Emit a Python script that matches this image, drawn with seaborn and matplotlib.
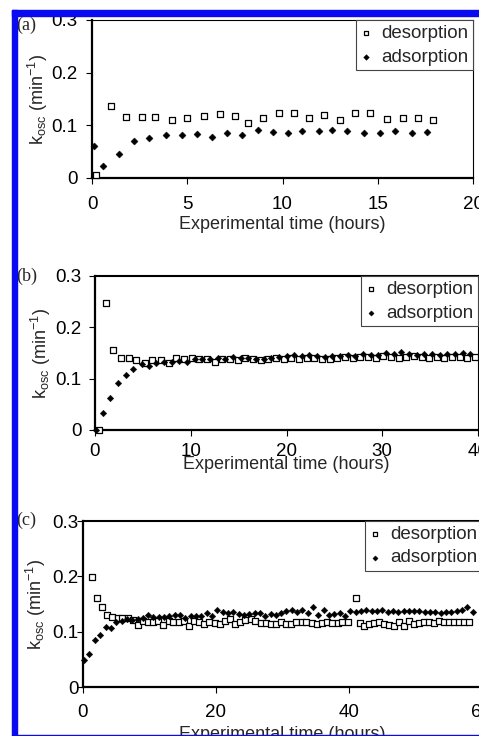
import matplotlib
matplotlib.use("Agg")
import matplotlib.pyplot as plt
from matplotlib.patches import Rectangle
import seaborn as sns

# ---------------- data ----------------
# (a) 20 h experiment
a_des_t = [0.2, 1.0, 1.8, 2.6, 3.3, 4.2, 5.0, 5.9, 6.7, 7.5, 8.2, 9.0, 9.8,
           10.6, 11.4, 12.2, 13.0, 13.8, 14.6, 15.5, 16.3, 17.1, 17.9]
a_des_k = [0.005, 0.136, 0.115, 0.115, 0.115, 0.111, 0.114, 0.117, 0.121, 0.117,
           0.104, 0.114, 0.123, 0.123, 0.114, 0.119, 0.111, 0.123, 0.123, 0.112,
           0.114, 0.114, 0.110]
a_ads_t = [0.1, 0.6, 1.4, 2.2, 3.0, 3.9, 4.7, 5.5, 6.3, 7.1, 7.9, 8.7, 9.5,
           10.3, 11.0, 11.9, 12.6, 13.4, 14.3, 15.1, 15.9, 16.8, 17.6]
a_ads_k = [0.060, 0.023, 0.046, 0.070, 0.076, 0.081, 0.081, 0.083, 0.078, 0.085,
           0.081, 0.091, 0.087, 0.085, 0.089, 0.089, 0.091, 0.089, 0.085, 0.085,
           0.089, 0.085, 0.087]

# (b) 40 h experiment
b_des_t = [0.4, 1.1, 1.9, 2.7, 3.5, 4.3, 5.2, 6.0, 6.9, 7.7,
           8.5, 9.3, 10.1, 10.9, 11.7, 12.5, 13.3, 14.1, 14.9, 15.7,
           16.5, 17.3, 18.1, 18.9, 19.7, 20.5, 21.3, 22.1, 22.9, 23.7,
           24.5, 25.3, 26.1, 26.9, 27.7, 28.5, 29.3, 30.1, 30.9, 31.7,
           32.5, 33.3, 34.1, 34.9, 35.7, 36.5, 37.3, 38.1, 38.9, 39.7]
b_des_k = [0.000, 0.247, 0.156, 0.141, 0.140, 0.136, 0.131, 0.136, 0.136, 0.130,
           0.140, 0.139, 0.141, 0.139, 0.138, 0.133, 0.138, 0.139, 0.137, 0.141,
           0.138, 0.137, 0.139, 0.140, 0.139, 0.141, 0.139, 0.140, 0.141, 0.138,
           0.139, 0.141, 0.143, 0.140, 0.142, 0.143, 0.141, 0.144, 0.143, 0.140,
           0.142, 0.145, 0.142, 0.141, 0.143, 0.141, 0.142, 0.143, 0.141, 0.142]
b_ads_t = [0.1, 0.8, 1.6, 2.4, 3.2, 4.0, 4.9, 5.6, 6.4, 7.2,
           8.0, 8.8, 9.6, 10.4, 11.2, 12.0, 12.8, 13.6, 14.4, 15.2,
           16.0, 16.8, 17.6, 18.4, 19.2, 20.0, 20.8, 21.6, 22.4, 23.2,
           24.0, 24.8, 25.6, 26.4, 27.2, 28.0, 28.8, 29.6, 30.4, 31.2,
           32.0, 32.8, 33.6, 34.4, 35.2, 36.0, 36.8, 37.6, 38.4, 39.2]
b_ads_k = [0.000, 0.034, 0.063, 0.091, 0.108, 0.118, 0.129, 0.124, 0.131, 0.132,
           0.133, 0.134, 0.133, 0.139, 0.138, 0.138, 0.141, 0.139, 0.142, 0.140,
           0.141, 0.138, 0.139, 0.141, 0.142, 0.145, 0.146, 0.145, 0.146, 0.145,
           0.143, 0.144, 0.145, 0.147, 0.144, 0.148, 0.146, 0.147, 0.150, 0.149,
           0.152, 0.148, 0.147, 0.149, 0.148, 0.147, 0.149, 0.148, 0.150, 0.149]

# (c) 60 h experiment
c_des_t = [1.3, 2.1, 2.8, 3.6, 4.4, 5.2, 5.9, 6.7, 7.5, 8.2,
           9.0, 9.8, 10.5, 11.3, 12.1, 12.9, 13.6, 14.4, 15.2, 15.9,
           16.7, 17.5, 18.2, 19.0, 19.8, 20.6, 21.3, 22.1, 22.9, 23.6,
           24.4, 25.2, 25.9, 26.7, 27.5, 28.3, 29.0, 29.8, 30.6, 31.3,
           32.1, 32.9, 33.6, 34.4, 35.2, 35.9, 36.7, 37.5, 38.3, 39.0,
           39.8, 41.0, 41.6, 42.3, 43.0, 43.8, 44.5, 45.3, 46.0, 46.8,
           47.5, 48.3, 49.0, 49.8, 50.5, 51.3, 52.0, 52.8, 53.5, 54.3,
           55.0, 55.8, 56.5, 57.3, 58.1]
c_des_k = [0.199, 0.161, 0.144, 0.130, 0.126, 0.124, 0.124, 0.124, 0.121, 0.112,
           0.119, 0.118, 0.118, 0.119, 0.112, 0.119, 0.118, 0.118, 0.119, 0.110,
           0.120, 0.118, 0.114, 0.117, 0.116, 0.113, 0.119, 0.122, 0.113, 0.118,
           0.121, 0.123, 0.120, 0.116, 0.115, 0.113, 0.114, 0.118, 0.113, 0.114,
           0.117, 0.118, 0.118, 0.116, 0.113, 0.116, 0.117, 0.115, 0.116, 0.118,
           0.118, 0.161, 0.115, 0.110, 0.113, 0.115, 0.118, 0.113, 0.112, 0.110,
           0.118, 0.110, 0.120, 0.113, 0.116, 0.118, 0.118, 0.116, 0.120, 0.117,
           0.117, 0.117, 0.117, 0.117, 0.118]
c_ads_t = [0.2, 0.9, 1.8, 2.5, 3.4, 4.2, 5.0,
           5.8, 6.6, 7.4, 8.2, 9.0, 9.8, 10.6, 11.4, 12.2, 13.0,
           13.8, 14.6, 15.4, 16.2, 17.0, 17.8, 18.6, 19.4, 20.2, 21.0,
           21.8, 22.6, 23.4, 24.2, 25.0, 25.8, 26.6, 27.4, 28.2, 29.0,
           29.8, 30.6, 31.4, 32.2, 33.0, 33.8, 34.6, 35.4, 36.2, 37.0,
           37.8, 38.6, 39.4, 40.2, 41.0, 41.8, 42.6, 43.4, 44.2, 45.0,
           45.8, 46.6, 47.4, 48.2, 49.0, 49.8, 50.6, 51.4, 52.2, 53.0,
           53.8, 54.6, 55.4, 56.2, 57.0, 57.8, 58.6]
c_ads_k = [0.048, 0.059, 0.085, 0.094, 0.109, 0.106, 0.118,
           0.120, 0.122, 0.121, 0.122, 0.125, 0.131, 0.126, 0.127, 0.126, 0.129,
           0.131, 0.131, 0.125, 0.128, 0.129, 0.128, 0.133, 0.129, 0.139, 0.136,
           0.134, 0.135, 0.132, 0.131, 0.132, 0.134, 0.134, 0.128, 0.132, 0.131,
           0.133, 0.138, 0.139, 0.136, 0.139, 0.133, 0.145, 0.131, 0.139, 0.130,
           0.132, 0.134, 0.129, 0.137, 0.136, 0.138, 0.140, 0.138, 0.138, 0.139,
           0.135, 0.137, 0.136, 0.138, 0.137, 0.138, 0.137, 0.136, 0.135, 0.136,
           0.133, 0.136, 0.135, 0.137, 0.139, 0.145, 0.136]

y_ticks = [0, 0.1, 0.2, 0.3]
y_ticklabels = ["0", "0.1", "0.2", "0.3"]
series_names = ["desorption", "adsorption"]
x_label = "Experimental time (hours)"
y_label = r"k$_{\mathregular{osc}}$ (min$^{\mathregular{-1}}$)"

# ---------------- style ----------------
sns.set_style("ticks")
plt.rcParams["font.family"] = ["Liberation Sans", "DejaVu Sans"]
plt.rcParams["mathtext.default"] = "regular"
FS = 13.5

W, H = 479, 736
fig = plt.figure(figsize=(W / 100, H / 100), dpi=100)


def px_axes(left, top, right, bottom):
    return fig.add_axes([left / W, 1 - bottom / H, (right - left) / W, (bottom - top) / H])


panels = [
    dict(tag="(a)", box=(92, 20, 473, 178), xlim=20, xticks=[0, 5, 10, 15, 20],
         des=(a_des_t, a_des_k), ads=(a_ads_t, a_ads_k),
         sq=20, dm=13, top_lw=0.8, ypad=6.5, xpad=9.0, labpad=2.0, ylab_px=50,
         tag_y=25),
    dict(tag="(b)", box=(95, 276, 478, 430), xlim=40, xticks=[0, 10, 20, 30, 40],
         des=(b_des_t, b_des_k), ads=(b_ads_t, b_ads_k),
         sq=15, dm=11, top_lw=1.5, ypad=5.8, xpad=5.0, labpad=-2.5, ylab_px=53,
         tag_y=276),
    dict(tag="(c)", box=(83, 521, 482, 687), xlim=60, xticks=[0, 20, 40, 60],
         des=(c_des_t, c_des_k), ads=(c_ads_t, c_ads_k),
         sq=15, dm=11, top_lw=1.5, ypad=-1.0, xpad=8.5, labpad=3.0, ylab_px=48,
         tag_y=520),
]

for p in panels:
    left, top, right, bottom = p["box"]
    ax = px_axes(left, top, right, bottom)

    sns.scatterplot(x=p["des"][0], y=p["des"][1], ax=ax, marker="s", s=p["sq"],
                    color="white", edgecolor="black", linewidth=0.9,
                    label=series_names[0], clip_on=False, zorder=3)
    sns.scatterplot(x=p["ads"][0], y=p["ads"][1], ax=ax, marker="D", s=p["dm"],
                    color="black", edgecolor="black", linewidth=0.3,
                    label=series_names[1], clip_on=False, zorder=4)

    ax.set_xlim(0, p["xlim"])
    ax.set_ylim(0, 0.3)
    ax.set_xticks(p["xticks"])
    ax.set_yticks(y_ticks)
    ax.set_yticklabels(y_ticklabels)
    ax.tick_params(axis="both", direction="out", length=4, width=0.8,
                   colors="black", labelsize=FS)
    ax.tick_params(axis="y", pad=p["ypad"])
    ax.tick_params(axis="x", pad=p["xpad"])

    for side in ("left", "bottom"):
        ax.spines[side].set_linewidth(1.6)
        ax.spines[side].set_color("black")
    ax.spines["top"].set_linewidth(p["top_lw"])
    ax.spines["right"].set_linewidth(0.8)
    ax.spines["top"].set_color("black")
    ax.spines["right"].set_color("black")
    for side in ("top", "right"):
        ax.spines[side].set_visible(True)

    ax.set_xlabel(x_label, fontsize=13, labelpad=p["labpad"])
    ax.set_ylabel(y_label, fontsize=13)
    ax.yaxis.set_label_coords((p["ylab_px"] - left) / (right - left), 0.5)

    leg = ax.legend(loc="upper right", bbox_to_anchor=(1, 1), borderaxespad=0,
                    frameon=True, fancybox=False, framealpha=1, fontsize=FS,
                    handlelength=0.6, handletextpad=0.5, borderpad=0.25,
                    labelspacing=0.35, markerscale=0.8)
    leg.get_frame().set_edgecolor("#444444")
    leg.get_frame().set_linewidth(0.8)

    fig.text(16 / W, 1 - p["tag_y"] / H, p["tag"], ha="left", va="center",
             fontsize=13, family=["Liberation Serif", "DejaVu Serif"])

# blue frame along the top, left and bottom edges
blue = "#0a0af2"
fig.add_artist(Rectangle((12 / W, 1 - 16 / H), (W - 12) / W, 6 / H,
                         transform=fig.transFigure, color=blue, zorder=20))
fig.add_artist(Rectangle((12 / W, 0), 5 / W, (H - 10) / H,
                         transform=fig.transFigure, color=blue, zorder=20))
fig.add_artist(Rectangle((12 / W, 0), (W - 12) / W, 1.5 / H,
                         transform=fig.transFigure, color=blue, zorder=20))

fig.savefig("out.png", dpi=100)
